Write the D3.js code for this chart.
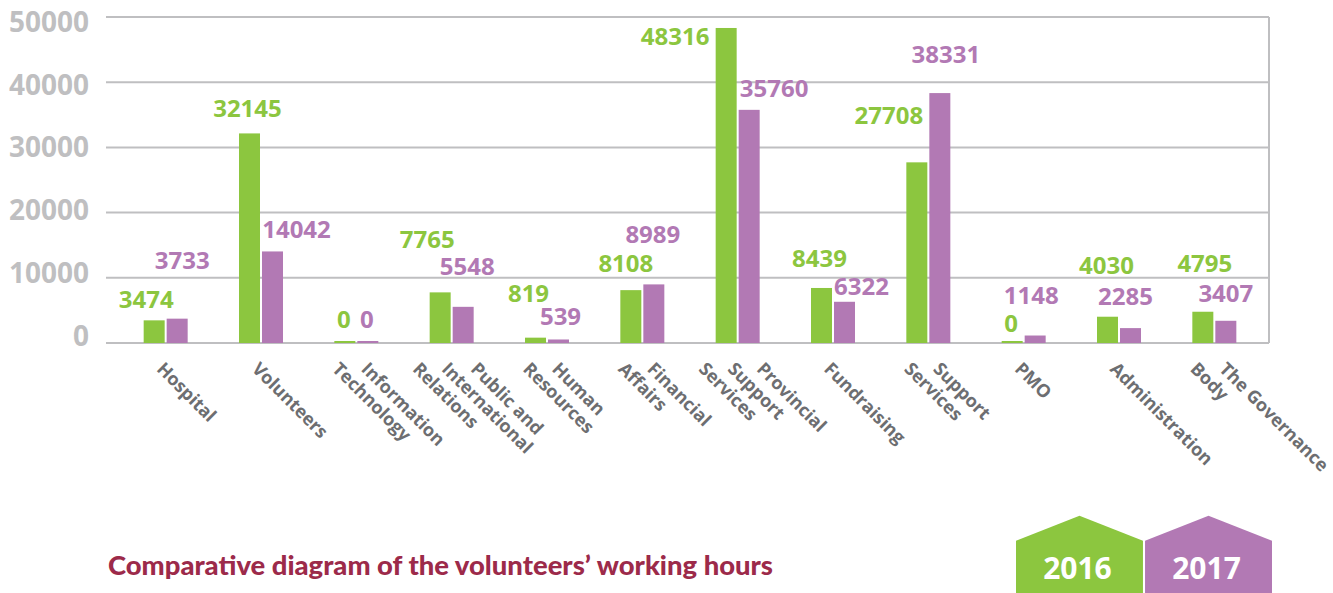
<!DOCTYPE html>
<html>
<head>
<meta charset="utf-8">
<script src="https://cdn.jsdelivr.net/npm/d3@7"></script>
<style>
  html, body { margin: 0; padding: 0; background: #fff; }
  svg { display: block; }
</style>
</head>
<body>
<svg id="chart" width="1333" height="593"></svg>
<script>
// --- data ---
const categories = [
  ["Hospital"],
  ["Volunteers"],
  ["Information", "Technology"],
  ["Public and", "International", "Relations"],
  ["Human", "Resources"],
  ["Financial", "Affairs"],
  ["Provincial", "Support", "Services"],
  ["Fundraising"],
  ["Support", "Services"],
  ["PMO"],
  ["Administration"],
  ["The Governance", "Body"]
];
const series = ["2016", "2017"];
const hours2016 = [3474, 32145, 0, 7765, 819, 8108, 48316, 8439, 27708, 0, 4030, 4795];
const hours2017 = [3733, 14042, 0, 5548, 539, 8989, 35760, 6322, 38331, 1148, 2285, 3407];
const yTicks = [0, 10000, 20000, 30000, 40000, 50000];
const title = "Comparative diagram of the volunteers\u2019 working hours";

// hand placed value labels in the original (dx from bar centre, dy from bar top)
const labelNudge2016 = [[-8,-12],[-2,-16],[-1,-15],[-13,-44],[-7,-36],[-5,-18],[-51,17],[-2,-21],[-28,-38],[-1,-11],[-1,-43],[2,-40]];
const labelNudge2017 = [[5,-50],[24,-13],[-1,-15],[4,-32],[2,-14],[-1,-41],[25,-13],[17,-7],[6,-30],[-4,-32],[-5,-23],[0,-19]];

const colors = { "2016": "#8cc63f", "2017": "#b279b4" };
const valuesBy = { "2016": hours2016, "2017": hours2017 };
const nudgeBy = { "2016": labelNudge2016, "2017": labelNudge2017 };

const svg = d3.select("#chart");
const plot = { left: 106, right: 1269, top: 17, bottom: 343 };

const x = d3.scaleBand().domain(d3.range(categories.length)).range([118, 1262]).padding(0);
const xs = d3.scaleBand().domain(series).range([-22, 22]).paddingInner(0.087);
const y = d3.scaleLinear().domain([0, 50000]).range([plot.bottom, plot.top]);
// tick labels in the original sit on a slightly tighter scale than the grid
const yLabel = d3.scaleLinear().domain([0, 50000]).range([335, 21.5]);
const cx = i => x(i) + x.bandwidth() / 2;

// gridlines
svg.append("g")
  .selectAll("line")
  .data(yTicks)
  .join("line")
  .attr("x1", plot.left).attr("x2", plot.right)
  .attr("y1", d => y(d)).attr("y2", d => y(d))
  .attr("stroke", "#bfbfc1").attr("stroke-width", 2);
svg.append("line")
  .attr("x1", plot.right).attr("x2", plot.right)
  .attr("y1", y(50000)).attr("y2", y(0))
  .attr("stroke", "#bfbfc1").attr("stroke-width", 2);

// y axis labels
const yAxis = svg.append("g")
  .attr("transform", "translate(89,0)")
  .call(d3.axisLeft(yLabel).tickValues(yTicks).tickSize(0).tickPadding(0).tickFormat(d3.format("d")));
yAxis.select(".domain").remove();
yAxis.selectAll("text")
  .attr("dy", "0.36em")
  .attr("fill", "#bfbfc1")
  .style("font-family", "'Open Sans', sans-serif")
  .style("font-weight", 700)
  .style("font-size", "28px");

// bars
series.forEach(s => {
  svg.append("g")
    .selectAll("rect")
    .data(valuesBy[s])
    .join("rect")
    .attr("x", (d, i) => cx(i) + xs(s))
    .attr("width", xs.bandwidth())
    .attr("y", d => Math.min(y(d), y(0) - 2))
    .attr("height", d => Math.max(2, y(0) - y(d)))
    .attr("fill", colors[s]);
});

// value labels
series.forEach(s => {
  svg.append("g")
    .selectAll("text")
    .data(valuesBy[s])
    .join("text")
    .attr("x", (d, i) => cx(i) + xs(s) + xs.bandwidth() / 2 + nudgeBy[s][i][0])
    .attr("y", (d, i) => y(d) + nudgeBy[s][i][1])
    .attr("text-anchor", "middle")
    .attr("fill", colors[s])
    .style("font-family", "'Open Sans', sans-serif")
    .style("font-weight", 700)
    .style("font-size", "24px")
    .text(d => d);
});

// category labels, rotated 45deg, each line starting on the same row
const catG = svg.append("g");
categories.forEach((lines, i) => {
  const x0 = cx(i) - 10 + (lines.length - 1) * 14;
  const y0 = plot.bottom + 27;
  lines.forEach((line, j) => {
    const lx = x0 - j * 29;
    catG.append("text")
      .attr("x", lx).attr("y", y0)
      .attr("transform", `rotate(45,${lx},${y0})`)
      .attr("fill", "#6d6e71")
      .style("font-family", "'Open Sans', sans-serif")
      .style("font-weight", 700)
      .style("font-size", "18px")
      .text(line);
  });
});

// title
svg.append("text")
  .attr("x", 108).attr("y", 575)
  .attr("fill", "#9c2a4a")
  .attr("textLength", 665)
  .attr("lengthAdjust", "spacingAndGlyphs")
  .style("font-family", "Lato, sans-serif")
  .style("font-weight", 900)
  .style("font-size", "27px")
  .text(title);

// legend houses
const legendX = d3.scaleBand().domain(series).range([1016, 1272]).paddingInner(0.016);
const lg = svg.append("g").selectAll("g").data(series).join("g")
  .attr("transform", d => `translate(${legendX(d)},0)`);
lg.append("path")
  .attr("d", () => {
    const w = legendX.bandwidth();
    return `M0,593 L0,540.7 L${w / 2},515.7 L${w},540.7 L${w},593 Z`;
  })
  .attr("fill", d => colors[d]);
lg.append("text")
  .attr("x", legendX.bandwidth() / 2 - 2)
  .attr("y", 579)
  .attr("text-anchor", "middle")
  .attr("fill", "#fff")
  .style("font-family", "'Open Sans', sans-serif")
  .style("font-weight", 700)
  .style("font-size", "30px")
  .text(d => d);
</script>
</body>
</html>
